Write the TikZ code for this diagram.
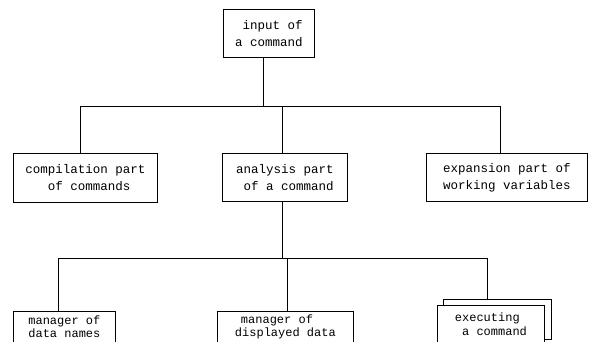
\documentclass[tikz,border=0pt]{standalone}
\usepackage{fontspec}
\setmonofont{Liberation Mono}
\begin{document}
\begin{tikzpicture}[x=1pt,y=-1pt,
  box/.style={draw, line width=0.8pt, fill=white, font=\ttfamily\fontsize{12.5}{17}\selectfont,
    align=left, anchor=north west, inner sep=0pt},
  lowbox/.style={box, font=\ttfamily\fontsize{12}{13.5}\selectfont},
  wire/.style={line width=0.8pt}]
\useasboundingbox (0,0) rectangle (593,341);
% top
\node[box, minimum width=91pt, minimum height=48pt] (top) at (223,9) {\phantom{a}input of\\a command};
% middle row
\node[box, minimum width=144pt, minimum height=49pt] (comp) at (13,153) {compilation part\\\phantom{ooo}of commands};
\node[box, minimum width=125pt, minimum height=48pt] (ana) at (222,153) {analysis part\\\phantom{o}of a command};
\node[box, minimum width=161pt, minimum height=48pt] (exp) at (426,153) {expansion part of\\working variables};
% bottom row
\node[lowbox, minimum width=102pt, minimum height=31pt] (mnames) at (13,311) {manager of\\data names};
\node[lowbox, minimum width=136pt, minimum height=31pt] (mdisp) at (217,311) {\hspace{0.5em}manager of\\displayed data};
\node[lowbox, minimum width=108pt, minimum height=40pt] (execback) at (443,299) {};
\node[lowbox, minimum width=107pt, minimum height=38pt] (exec) at (437,305) {executing\\\phantom{a}a command};
% junctions
\coordinate (j1) at (263,106);
\coordinate (j1l) at (80,106);
\coordinate (j1m) at (282,106);
\coordinate (j1r) at (500,106);
\coordinate (j2) at (282,258);
\coordinate (j2l) at (58,258);
\coordinate (j2m) at (287,258);
\coordinate (j2r) at (487,258);
% connectors
\draw[wire] (top.south -| j1) -- (j1);
\draw[wire] (j1l) -- (j1r);
\draw[wire] (j1l) -- (comp.north -| j1l);
\draw[wire] (j1m) -- (ana.north -| j1m);
\draw[wire] (j1r) -- (exp.north -| j1r);
\draw[wire] (ana.south -| j2) -- (j2);
\draw[wire] (j2l) -- (j2r);
\draw[wire] (j2l) -- (mnames.north -| j2l);
\draw[wire] (j2m) -- (mdisp.north -| j2m);
\draw[wire] (j2r) -- (execback.north -| j2r);
\end{tikzpicture}
\end{document}
